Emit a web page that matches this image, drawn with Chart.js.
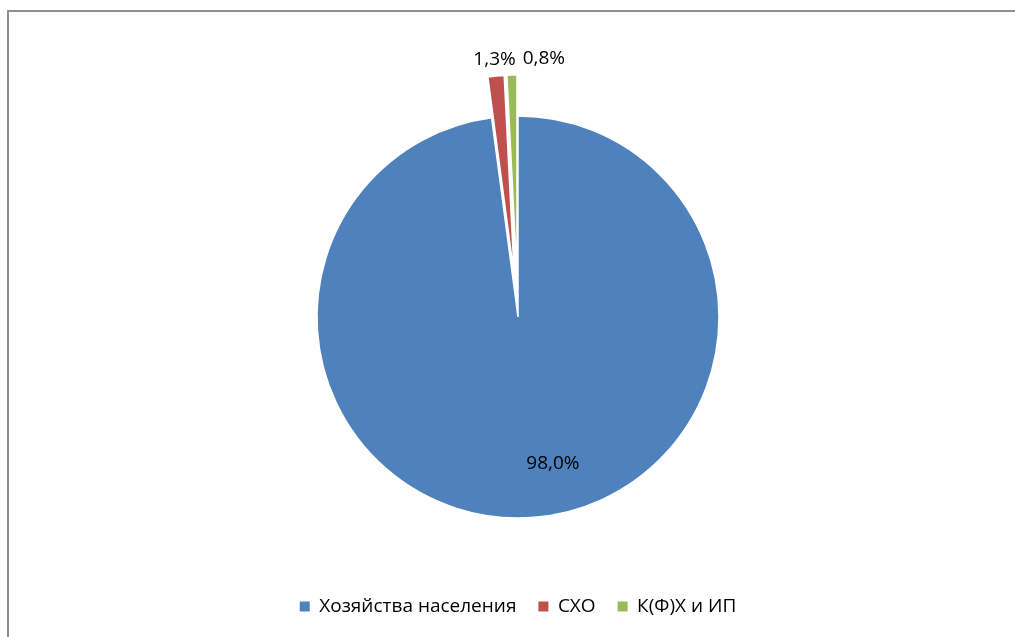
<!DOCTYPE html>
<html>
<head>
<meta charset="utf-8">
<script src="https://cdn.jsdelivr.net/npm/chart.js@4.4.1/dist/chart.umd.min.js"></script>
<style>
  html, body { margin: 0; padding: 0; background: #fff; overflow: hidden; }
  #frame { position: absolute; left: 7px; top: 10px; width: 1100px; height: 700px;
           border-left: 2px solid #8f8f8f; border-top: 2px solid #8f8f8f; }
  #wrap { position: absolute; left: 0; top: 0; width: 1015px; height: 626px; }
</style>
</head>
<body>
<div id="frame"></div>
<div id="wrap"><canvas id="pie"></canvas></div>
<script>
const categories = ['Хозяйства населения', 'СХО', 'К(Ф)Х и ИП'];
const shares = [98.0, 1.3, 0.8];
const shareLabels = ['98,0%', '1,3%', '0,8%'];
const sliceColors = ['#4F81BD', '#C0504D', '#9BBB59'];
const explode = [0, 41, 41];

const FONT = '"Open Sans", "DejaVu Sans", sans-serif';

// pull slices out of the pie without the radius growth of chart.js "offset"
const explodeSlices = {
  id: 'explodeSlices',
  beforeDatasetsDraw(chart) {
    const meta = chart.getDatasetMeta(0);
    meta.data.forEach((arc, i) => {
      if (!explode[i] || arc._exploded) return;
      const baseDraw = arc.draw;
      arc.draw = function (ctx, area) {
        const mid = (this.startAngle + this.endAngle) / 2;
        ctx.save();
        ctx.translate(Math.cos(mid) * explode[i], Math.sin(mid) * explode[i]);
        baseDraw.call(this, ctx, area);
        ctx.restore();
      };
      arc._exploded = true;
    });
  }
};

// percent labels: big slice inside (best fit), small slices outside
const pieLabels = {
  id: 'pieLabels',
  afterDatasetsDraw(chart) {
    const ctx = chart.ctx;
    const meta = chart.getDatasetMeta(0);
    ctx.save();
    ctx.font = '19px ' + FONT;
    ctx.fillStyle = '#000';
    ctx.textAlign = 'center';
    ctx.textBaseline = 'middle';
    let prevRight = -Infinity;
    meta.data.forEach((arc, i) => {
      const p = arc.getProps(['x', 'y', 'startAngle', 'endAngle', 'outerRadius', 'circumference']);
      const mid = (p.startAngle + p.endAngle) / 2;
      const text = shareLabels[i];
      const w = ctx.measureText(text).width;
      let x, y;
      if (p.circumference > Math.PI) {
        const a = mid - 0.168;
        x = p.x + Math.cos(a) * p.outerRadius * 0.75;
        y = p.y + Math.sin(a) * p.outerRadius * 0.75;
      } else {
        const d = p.outerRadius + explode[i] + 16;
        x = p.x + Math.cos(mid) * d;
        y = p.y + Math.sin(mid) * d;
        if (x - w / 2 < prevRight + 7) x = prevRight + 7 + w / 2;
        prevRight = x + w / 2;
      }
      ctx.fillText(text, x, y);
    });
    ctx.restore();
  }
};

new Chart(document.getElementById('pie'), {
  type: 'pie',
  data: {
    labels: categories,
    datasets: [{
      data: shares,
      backgroundColor: sliceColors,
      borderColor: '#ffffff',
      borderWidth: 1.5,
      radius: 201
    }]
  },
  options: {
    responsive: true,
    maintainAspectRatio: false,
    animation: false,
    layout: { padding: { left: 21, right: 0, top: 59, bottom: 0 } },
    plugins: {
      tooltip: { enabled: false },
      legend: {
        position: 'bottom',
        labels: {
          boxWidth: 10,
          boxHeight: 10,
          padding: 22,
          color: '#000',
          font: { size: 19, family: FONT },
          generateLabels(chart) {
            return Chart.PieController.overrides.plugins.legend.labels.generateLabels(chart)
              .map(item => Object.assign(item, { lineWidth: 0 }));
          }
        }
      }
    }
  },
  plugins: [explodeSlices, pieLabels]
});
</script>
</body>
</html>
